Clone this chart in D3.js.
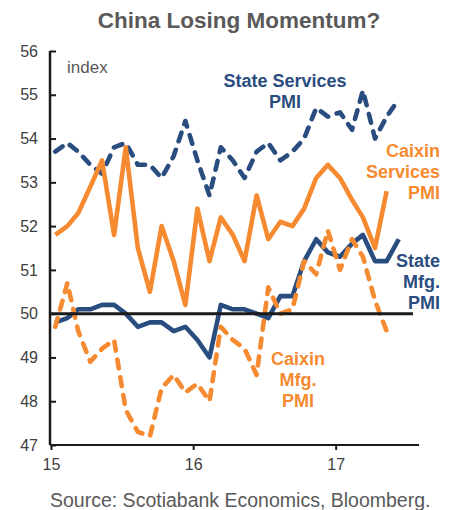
<!DOCTYPE html>
<html>
<head>
<meta charset="utf-8">
<script src="https://cdn.jsdelivr.net/npm/d3@7"></script>
<style>
  body { margin: 0; background: #fff; }
  svg { font-family: "Liberation Sans", Arial, sans-serif; }
</style>
</head>
<body>
<svg id="chart" width="451" height="510"></svg>
<script>
// monthly observations, Jan 2015 .. Jun 2017
const months = [
  "2015-01","2015-02","2015-03","2015-04","2015-05","2015-06","2015-07","2015-08","2015-09","2015-10","2015-11","2015-12",
  "2016-01","2016-02","2016-03","2016-04","2016-05","2016-06","2016-07","2016-08","2016-09","2016-10","2016-11","2016-12",
  "2017-01","2017-02","2017-03","2017-04","2017-05","2017-06"
];
const stateServices = [53.7,53.9,53.7,53.4,53.2,53.8,53.9,53.4,53.4,53.1,53.6,54.4,
                       53.5,52.7,53.8,53.5,53.1,53.7,53.9,53.5,53.7,54.0,54.7,54.5,
                       54.6,54.2,55.1,54.0,54.5,54.9];
const caixinServices = [51.8,52.0,52.3,52.9,53.5,51.8,53.8,51.5,50.5,52.0,51.2,50.2,
                        52.4,51.2,52.2,51.8,51.2,52.7,51.7,52.1,52.0,52.4,53.1,53.4,
                        53.1,52.6,52.2,51.5,52.8];
const stateMfg = [49.8,49.9,50.1,50.1,50.2,50.2,50.0,49.7,49.8,49.8,49.6,49.7,
                  49.4,49.0,50.2,50.1,50.1,50.0,49.9,50.4,50.4,51.2,51.7,51.4,
                  51.3,51.6,51.8,51.2,51.2,51.7];
const caixinMfg = [49.7,50.7,49.6,48.9,49.2,49.4,47.8,47.3,47.2,48.3,48.6,48.2,
                   48.4,48.0,49.7,49.4,49.2,48.6,50.6,50.0,50.1,51.2,50.9,51.9,
                   51.0,51.7,51.3,50.3,49.6];
const yTicks = [47,48,49,50,51,52,53,54,55,56];
const xTicks = ["2015-01-01","2016-01-01","2017-01-01"];
const xTickLabels = ["15","16","17"];

const blue = "#2a4d7f", orange = "#f68a30", grey = "#595959";
const svg = d3.select("#chart");
const parseMonth = d3.timeParse("%Y-%m");
const parseDay = d3.timeParse("%Y-%m-%d");
// points sit a little into each month
const dates = months.map(m => d3.timeDay.offset(parseMonth(m), 11));

const plotLeft = 50, plotRight = 419, plotTop = 51, plotBottom = 445;
const x = d3.scaleTime()
  .domain([parseDay("2015-01-01"), parseDay("2017-08-03")])
  .range([51, plotRight]);
const y = d3.scaleLinear().domain([47, 56]).range([plotBottom, plotTop]);

// title
svg.append("text")
  .attr("x", 239).attr("y", 28)
  .attr("text-anchor", "middle")
  .style("font-size", "22.5px").style("font-weight", "bold")
  .attr("fill", grey)
  .text("China Losing Momentum?");

// y axis, ticks inside
const yAxis = svg.append("g")
  .attr("transform", `translate(${plotLeft},0)`)
  .call(d3.axisRight(y).tickValues(yTicks).tickSize(6).tickFormat(d3.format("d")));
yAxis.select(".domain").attr("d", `M0,${plotTop}V${plotBottom}`).attr("stroke", "#1a1a1a").attr("stroke-width", 2.5);
yAxis.selectAll(".tick line").attr("stroke", "#1a1a1a").attr("stroke-width", 2);
yAxis.selectAll(".tick text")
  .attr("x", -12).attr("text-anchor", "end")
  .style("font-size", "16px").attr("fill", "#404040");

// x axis
const xAxis = svg.append("g")
  .attr("transform", `translate(0,${plotBottom})`)
  .call(d3.axisBottom(x).tickValues(xTicks.map(parseDay)).tickSize(5)
    .tickFormat((d, i) => xTickLabels[i]));
xAxis.select(".domain").attr("d", `M${plotLeft},0H${plotRight}`).attr("stroke", "#1a1a1a").attr("stroke-width", 2);
xAxis.selectAll(".tick line").attr("stroke", "#1a1a1a").attr("stroke-width", 2);
xAxis.selectAll(".tick text")
  .attr("y", 14)
  .style("font-size", "16px").attr("fill", "#404040");

// axis unit
svg.append("text")
  .attr("x", 67).attr("y", 73)
  .style("font-size", "17px").attr("fill", grey)
  .text("index");

const line = d3.line()
  .x((d, i) => x(dates[i]))
  .y(d => y(d));

function drawSeries(values, color, dashed) {
  svg.append("path")
    .datum(values)
    .attr("d", line)
    .attr("fill", "none")
    .attr("stroke", color)
    .attr("stroke-width", 4.6)
    .attr("stroke-linejoin", "round")
    .attr("stroke-linecap", dashed ? "round" : "butt")
    .attr("stroke-dasharray", dashed ? "9,9" : null);
}

drawSeries(stateServices, blue, true);
drawSeries(caixinServices, orange, false);
drawSeries(stateMfg, blue, false);
drawSeries(caixinMfg, orange, true);

// 50 reference line
svg.append("line")
  .attr("x1", plotLeft).attr("x2", 413)
  .attr("y1", y(50)).attr("y2", y(50))
  .attr("stroke", "#1a1a1a").attr("stroke-width", 3);

// series labels
function label(lines, xPos, yPos, anchor, color) {
  const t = svg.append("text")
    .attr("text-anchor", anchor)
    .style("font-size", "18px").style("font-weight", "bold")
    .attr("fill", color);
  lines.forEach((s, i) => {
    t.append("tspan").attr("x", xPos).attr("y", yPos + i * 21).text(s);
  });
}
label(["State Services", "PMI"], 285, 87, "middle", blue);
label(["Caixin", "Services", "PMI"], 440, 157, "end", orange);
label(["State", "Mfg.", "PMI"], 440, 267, "end", blue);
label(["Caixin", "Mfg.", "PMI"], 298, 365, "middle", orange);

// source
svg.append("text")
  .attr("x", 50).attr("y", 507)
  .style("font-size", "19.5px").attr("fill", grey)
  .text("Source: Scotiabank Economics, Bloomberg.");
</script>
</body>
</html>
